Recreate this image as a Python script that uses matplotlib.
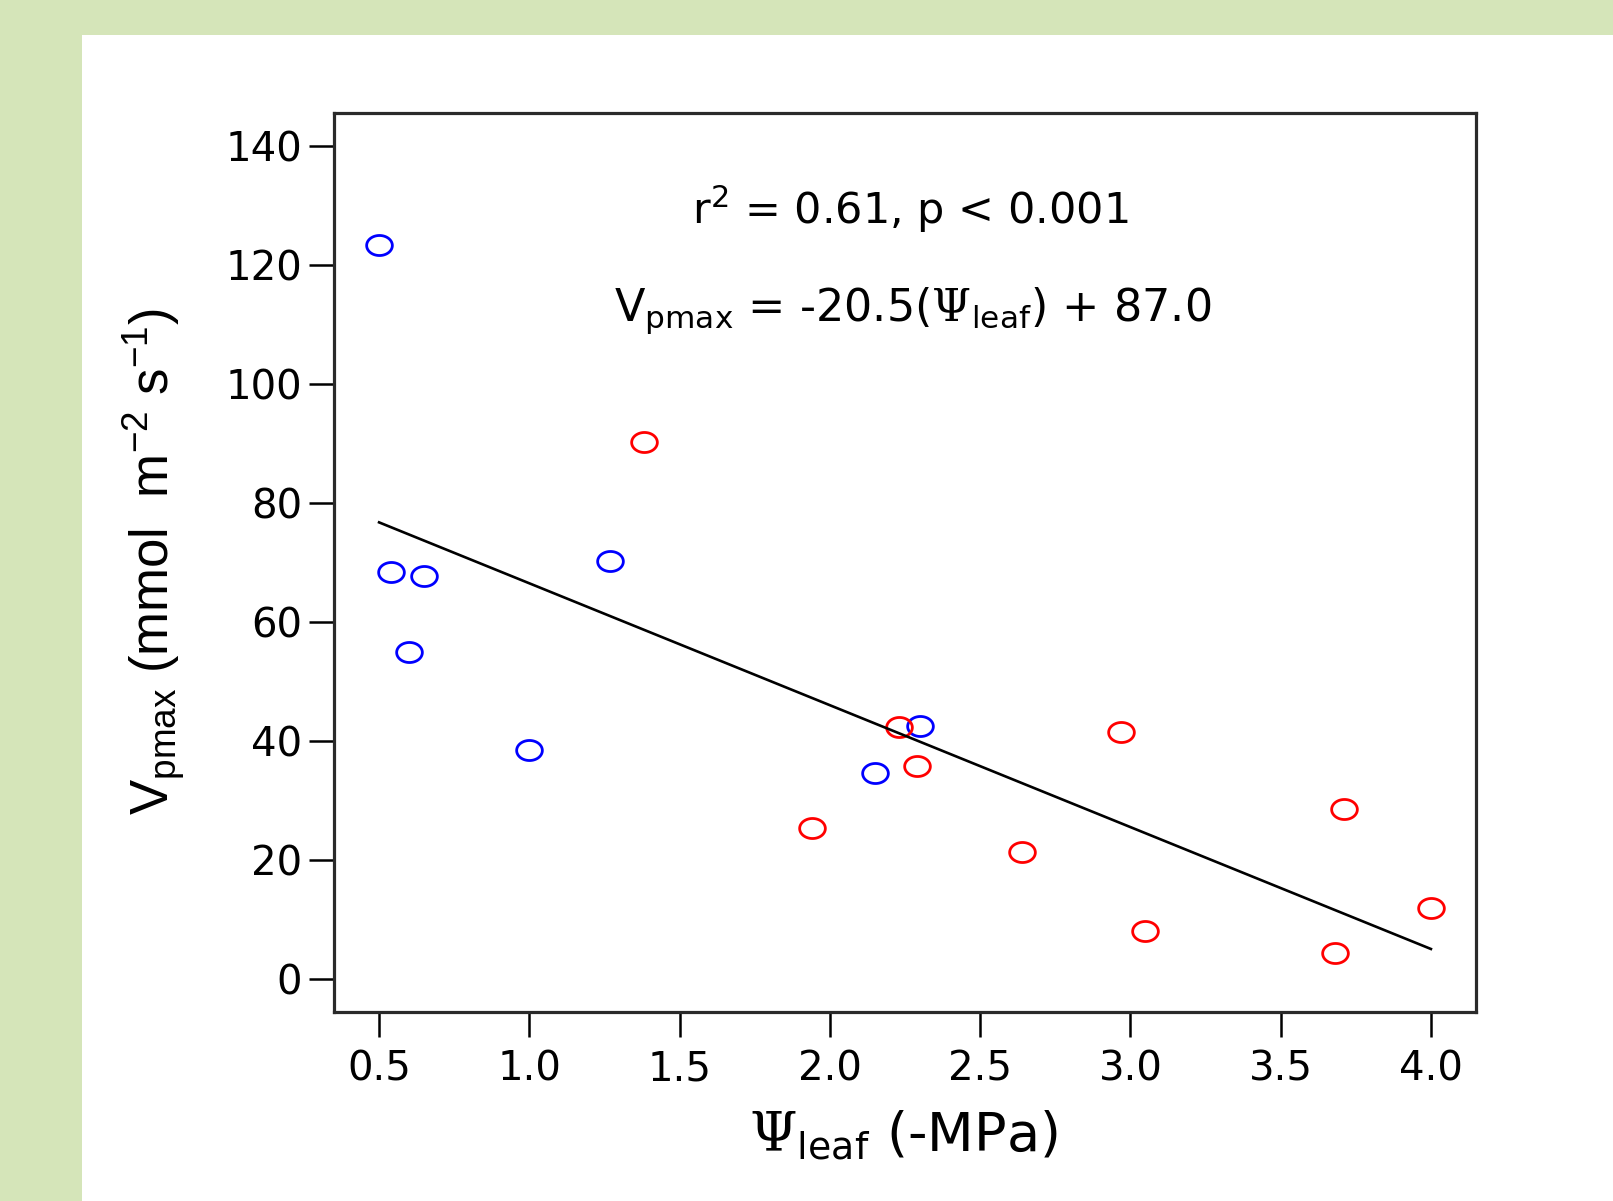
import matplotlib
matplotlib.use("Agg")
import matplotlib.pyplot as plt
import numpy as np
from matplotlib.path import Path
from matplotlib.patches import Rectangle

plt.rcParams['font.family'] = ['DejaVu Sans']
plt.rcParams['mathtext.fontset'] = 'custom'
plt.rcParams['mathtext.rm'] = 'DejaVu Sans'
plt.rcParams['mathtext.it'] = 'DejaVu Sans'
plt.rcParams['mathtext.cal'] = 'DejaVu Serif'
plt.rcParams['mathtext.default'] = 'regular'

# Data
blue_x = [0.50, 0.54, 0.65, 0.60, 1.00, 1.27, 2.30, 2.15]
blue_y = [123.4, 68.4, 67.7, 55.0, 38.4, 70.3, 42.5, 34.6]
red_x = [1.38, 2.23, 2.29, 1.94, 2.64, 2.97, 3.05, 3.71, 3.68, 4.00]
red_y = [90.2, 42.3, 35.8, 25.4, 21.3, 41.5, 8.0, 28.5, 4.3, 11.9]
slope = -20.5
intercept = 87.0
x_ticks = [0.5, 1.0, 1.5, 2.0, 2.5, 3.0, 3.5, 4.0]
x_ticklabels = ['0.5', '1.0', '1.5', '2.0', '2.5', '3.0', '3.5', '4.0']
y_ticks = [0, 20, 40, 60, 80, 100, 120, 140]
y_ticklabels = ['0', '20', '40', '60', '80', '100', '120', '140']

fig = plt.figure(figsize=(16.13, 12.01), dpi=100)
fig.patch.set_facecolor('#d5e5b9')
fig.patches.append(Rectangle((82/1613, 0), 1 - 82/1613, 1 - 35/1201,
                             transform=fig.transFigure, facecolor='white',
                             edgecolor='none', zorder=-10))

ax = fig.add_axes([334/1613, 189/1201, (1476-334)/1613, (1012-113)/1201])
ax.set_zorder(5)
ax.set_facecolor('white')

# ellipse marker
t = np.linspace(0, 2*np.pi, 60)
ell = Path(np.column_stack([np.cos(t), 0.78*np.sin(t)]), closed=True)

ax.plot(blue_x, blue_y, linestyle='none', marker=ell, markersize=18.5,
        markerfacecolor='none', markeredgecolor='#0000ff', markeredgewidth=2.0)
ax.plot(red_x, red_y, linestyle='none', marker=ell, markersize=18.5,
        markerfacecolor='none', markeredgecolor='#ff0000', markeredgewidth=2.0)

all_x = np.array(blue_x + red_x)
lx = np.array([all_x.min(), all_x.max()])
ax.plot(lx, slope*lx + intercept, color='black', linewidth=1.9)

ax.set_xlim(0.35, 4.15)
ax.set_ylim(-5.6, 145.6)
ax.set_xticks(x_ticks)
ax.set_xticklabels(x_ticklabels)
ax.set_yticks(y_ticks)
ax.set_yticklabels(y_ticklabels)
ax.tick_params(axis='both', direction='out', length=18, width=1.8,
               labelsize=29, colors='black')
ax.tick_params(axis='x', pad=9)
ax.tick_params(axis='y', pad=5)
for s in ax.spines.values():
    s.set_linewidth(2.3)
    s.set_color('#2a2a2a')

ax.text(2.267, 129.4, r'r$^{2}$ = 0.61, p < 0.001', ha='center', va='center',
        fontsize=31)
ax.text(2.277, 112.3, r'V$_{pmax}$ = -20.5($\mathcal{\Psi}_{leaf}$) + 87.0',
        ha='center', va='center', fontsize=32)

fig.text(903/1613, 1 - 1135/1201, r'$\mathcal{\Psi}_{leaf}$ (-MPa)',
         ha='center', va='center', fontsize=39)
fig.text(154/1613, 1 - 561/1201, r'V$_{pmax}$ (mmol  m$^{-2}$ s$^{-1}$)',
         ha='center', va='center', fontsize=38, rotation=90,
         family='Liberation Sans', math_fontfamily='custom')

fig.savefig('out.png', dpi=100, facecolor=fig.get_facecolor())
